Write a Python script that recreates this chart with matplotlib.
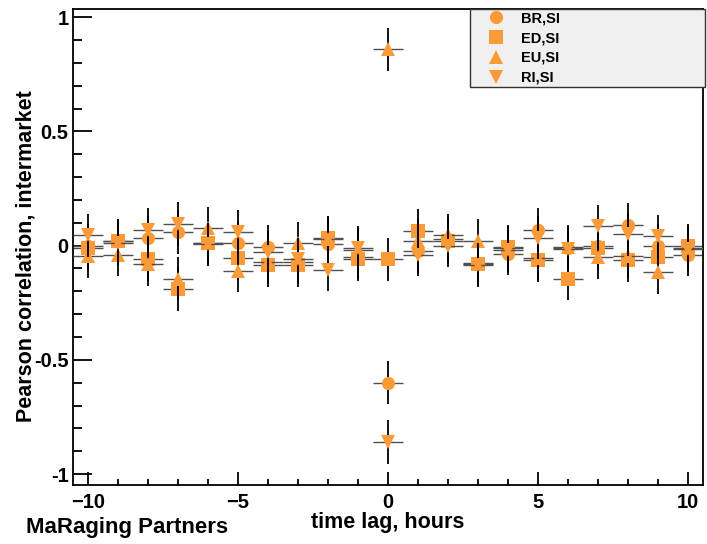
import matplotlib
matplotlib.use("Agg")
import matplotlib.pyplot as plt
from matplotlib.lines import Line2D
from matplotlib.ticker import MultipleLocator, FormatStrFormatter

# Datos: correlacion de Pearson por desfase (horas)
lags = [-10, -9, -8, -7, -6, -5, -4, -3, -2, -1, 0, 1, 2, 3, 4, 5, 6, 7, 8, 9, 10]

br_si = [0.00, 0.02, 0.035, 0.06, 0.01, 0.01, -0.005, -0.07, 0.005, -0.05, -0.60,
         -0.025, 0.03, -0.075, -0.035, 0.07, -0.01, 0.00, 0.09, 0.00, -0.04]
ed_si = [-0.01, 0.02, -0.06, -0.19, 0.01, -0.055, -0.085, -0.085, 0.035, -0.06, -0.06,
         0.065, 0.02, -0.08, -0.005, -0.065, -0.145, -0.01, -0.065, -0.05, 0.00]
eu_si = [-0.045, -0.04, -0.08, -0.145, 0.075, -0.11, -0.07, 0.01, 0.03, -0.02, 0.86,
         0.02, 0.045, 0.02, -0.01, -0.055, -0.005, -0.05, -0.045, -0.115, -0.01]
ri_si = [0.045, 0.01, 0.07, 0.095, 0.005, 0.06, -0.03, -0.06, -0.105, -0.01, -0.86,
         -0.04, 0.00, -0.085, -0.02, 0.035, -0.015, 0.085, 0.05, 0.04, -0.015]

# errores (aprox. iguales para todas las series)
err_y = [0.095, 0.095, 0.095, 0.095, 0.095, 0.095, 0.095, 0.095, 0.095, 0.095, 0.095,
         0.095, 0.095, 0.095, 0.095, 0.095, 0.095, 0.095, 0.095, 0.095, 0.095]
err_x = [0.5] * len(lags)

series = [("BR,SI", br_si, "o"), ("ED,SI", ed_si, "s"),
          ("EU,SI", eu_si, "^"), ("RI,SI", ri_si, "v")]

naranja = "#fd9a38"
plt.rcParams["font.family"] = ["Liberation Sans", "DejaVu Sans"]
plt.rcParams["font.weight"] = "bold"

fig = plt.figure(figsize=(7.07, 5.44), dpi=100)
ax = fig.add_axes([72.7 / 707, 59 / 544, 630.6 / 707, 476 / 544])

handles = []
for i, (nombre, valores, marca) in enumerate(series):
    z = 2 + 0.3 * i
    # barras horizontales (mas finas, grises) y verticales (negras)
    ax.errorbar(lags, valores, xerr=err_x, fmt="none", ecolor="#505050",
                elinewidth=1.0, capsize=0, zorder=z)
    ax.errorbar(lags, valores, yerr=err_y, fmt=marca, color=naranja,
                markersize=9.5, markeredgewidth=0, ecolor="black", elinewidth=1.3,
                capsize=0, zorder=z + 0.1)
    handles.append(Line2D([], [], marker=marca, color=naranja, linestyle="none",
                          markersize=9.5, markeredgewidth=0, label=nombre))

ax.set_xlim(-10.51, 10.51)
ax.set_ylim(-1.048, 1.036)

ax.xaxis.set_major_locator(MultipleLocator(5))
ax.xaxis.set_minor_locator(MultipleLocator(1))
ax.yaxis.set_major_locator(MultipleLocator(0.5))
ax.yaxis.set_minor_locator(MultipleLocator(0.1))
ax.yaxis.set_major_formatter(FormatStrFormatter("%g"))

ax.tick_params(axis="both", which="both", direction="in", top=False, right=False,
               width=1.3, labelsize=14.5)
ax.tick_params(axis="x", which="major", length=9.4, pad=6)
ax.tick_params(axis="x", which="minor", length=4.3)
ax.tick_params(axis="y", which="major", length=13.7, pad=3)
ax.tick_params(axis="y", which="minor", length=6.5)
for s in ax.spines.values():
    s.set_linewidth(1.3)

ax.set_xlabel("time lag, hours", fontsize=15.5, fontweight="bold", labelpad=0)
ax.set_ylabel("Pearson correlation, intermarket", fontsize=15.5, fontweight="bold")
ax.yaxis.set_label_coords(-0.057, 0.48)

fig.text(26 / 707, 1 - 527 / 544, "MaRaging Partners", fontsize=16, fontweight="bold",
         ha="left", va="center")

leg = ax.legend(handles=handles, loc="upper left",
                bbox_to_anchor=(470 / 707, 1 - 9 / 544 - 0.01, 235 / 707, 0.01),
                bbox_transform=fig.transFigure, mode="expand", fontsize=10.5,
                frameon=True, fancybox=False, facecolor="#f0f0f0", edgecolor="#333333",
                framealpha=1, borderpad=0.15, labelspacing=0.40, handlelength=3.2,
                handletextpad=0.15, borderaxespad=0)
leg.get_frame().set_linewidth(1.0)

fig.savefig("out.png", dpi=100)
